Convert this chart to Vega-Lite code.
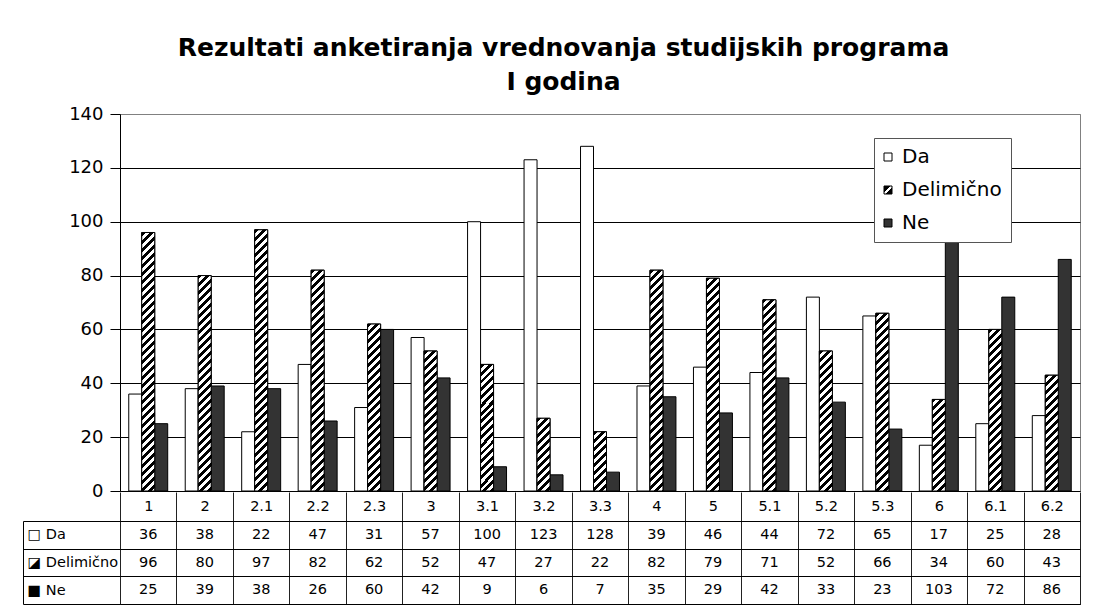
{
  "$schema": "https://vega.github.io/schema/vega-lite/v6.json",
  "background": "white",
  "padding": {"left": 22, "top": 35, "right": 10, "bottom": 5},
  "params": [
    {"name": "hatch", "value": [
      {"offset":0,"color":"#000"},
      {"offset":0.0139,"color":"#000"},{"offset":0.0139,"color":"#fff"},
      {"offset":0.0278,"color":"#fff"},{"offset":0.0278,"color":"#000"},
      {"offset":0.0417,"color":"#000"},{"offset":0.0417,"color":"#fff"},
      {"offset":0.0556,"color":"#fff"},{"offset":0.0556,"color":"#000"},
      {"offset":0.0694,"color":"#000"},{"offset":0.0694,"color":"#fff"},
      {"offset":0.0833,"color":"#fff"},{"offset":0.0833,"color":"#000"},
      {"offset":0.0972,"color":"#000"},{"offset":0.0972,"color":"#fff"},
      {"offset":0.1111,"color":"#fff"},{"offset":0.1111,"color":"#000"},
      {"offset":0.125,"color":"#000"},{"offset":0.125,"color":"#fff"},
      {"offset":0.1389,"color":"#fff"},{"offset":0.1389,"color":"#000"},
      {"offset":0.1528,"color":"#000"},{"offset":0.1528,"color":"#fff"},
      {"offset":0.1667,"color":"#fff"},{"offset":0.1667,"color":"#000"},
      {"offset":0.1806,"color":"#000"},{"offset":0.1806,"color":"#fff"},
      {"offset":0.1944,"color":"#fff"},{"offset":0.1944,"color":"#000"},
      {"offset":0.2083,"color":"#000"},{"offset":0.2083,"color":"#fff"},
      {"offset":0.2222,"color":"#fff"},{"offset":0.2222,"color":"#000"},
      {"offset":0.2361,"color":"#000"},{"offset":0.2361,"color":"#fff"},
      {"offset":0.25,"color":"#fff"},{"offset":0.25,"color":"#000"},
      {"offset":0.2639,"color":"#000"},{"offset":0.2639,"color":"#fff"},
      {"offset":0.2778,"color":"#fff"},{"offset":0.2778,"color":"#000"},
      {"offset":0.2917,"color":"#000"},{"offset":0.2917,"color":"#fff"},
      {"offset":0.3056,"color":"#fff"},{"offset":0.3056,"color":"#000"},
      {"offset":0.3194,"color":"#000"},{"offset":0.3194,"color":"#fff"},
      {"offset":0.3333,"color":"#fff"},{"offset":0.3333,"color":"#000"},
      {"offset":0.3472,"color":"#000"},{"offset":0.3472,"color":"#fff"},
      {"offset":0.3611,"color":"#fff"},{"offset":0.3611,"color":"#000"},
      {"offset":0.375,"color":"#000"},{"offset":0.375,"color":"#fff"},
      {"offset":0.3889,"color":"#fff"},{"offset":0.3889,"color":"#000"},
      {"offset":0.4028,"color":"#000"},{"offset":0.4028,"color":"#fff"},
      {"offset":0.4167,"color":"#fff"},{"offset":0.4167,"color":"#000"},
      {"offset":0.4306,"color":"#000"},{"offset":0.4306,"color":"#fff"},
      {"offset":0.4444,"color":"#fff"},{"offset":0.4444,"color":"#000"},
      {"offset":0.4583,"color":"#000"},{"offset":0.4583,"color":"#fff"},
      {"offset":0.4722,"color":"#fff"},{"offset":0.4722,"color":"#000"},
      {"offset":0.4861,"color":"#000"},{"offset":0.4861,"color":"#fff"},
      {"offset":0.5,"color":"#fff"},{"offset":0.5,"color":"#000"},
      {"offset":0.5139,"color":"#000"},{"offset":0.5139,"color":"#fff"},
      {"offset":0.5278,"color":"#fff"},{"offset":0.5278,"color":"#000"},
      {"offset":0.5417,"color":"#000"},{"offset":0.5417,"color":"#fff"},
      {"offset":0.5556,"color":"#fff"},{"offset":0.5556,"color":"#000"},
      {"offset":0.5694,"color":"#000"},{"offset":0.5694,"color":"#fff"},
      {"offset":0.5833,"color":"#fff"},{"offset":0.5833,"color":"#000"},
      {"offset":0.5972,"color":"#000"},{"offset":0.5972,"color":"#fff"},
      {"offset":0.6111,"color":"#fff"},{"offset":0.6111,"color":"#000"},
      {"offset":0.625,"color":"#000"},{"offset":0.625,"color":"#fff"},
      {"offset":0.6389,"color":"#fff"},{"offset":0.6389,"color":"#000"},
      {"offset":0.6528,"color":"#000"},{"offset":0.6528,"color":"#fff"},
      {"offset":0.6667,"color":"#fff"},{"offset":0.6667,"color":"#000"},
      {"offset":0.6806,"color":"#000"},{"offset":0.6806,"color":"#fff"},
      {"offset":0.6944,"color":"#fff"},{"offset":0.6944,"color":"#000"},
      {"offset":0.7083,"color":"#000"},{"offset":0.7083,"color":"#fff"},
      {"offset":0.7222,"color":"#fff"},{"offset":0.7222,"color":"#000"},
      {"offset":0.7361,"color":"#000"},{"offset":0.7361,"color":"#fff"},
      {"offset":0.75,"color":"#fff"},{"offset":0.75,"color":"#000"},
      {"offset":0.7639,"color":"#000"},{"offset":0.7639,"color":"#fff"},
      {"offset":0.7778,"color":"#fff"},{"offset":0.7778,"color":"#000"},
      {"offset":0.7917,"color":"#000"},{"offset":0.7917,"color":"#fff"},
      {"offset":0.8056,"color":"#fff"},{"offset":0.8056,"color":"#000"},
      {"offset":0.8194,"color":"#000"},{"offset":0.8194,"color":"#fff"},
      {"offset":0.8333,"color":"#fff"},{"offset":0.8333,"color":"#000"},
      {"offset":0.8472,"color":"#000"},{"offset":0.8472,"color":"#fff"},
      {"offset":0.8611,"color":"#fff"},{"offset":0.8611,"color":"#000"},
      {"offset":0.875,"color":"#000"},{"offset":0.875,"color":"#fff"},
      {"offset":0.8889,"color":"#fff"},{"offset":0.8889,"color":"#000"},
      {"offset":0.9028,"color":"#000"},{"offset":0.9028,"color":"#fff"},
      {"offset":0.9167,"color":"#fff"},{"offset":0.9167,"color":"#000"},
      {"offset":0.9306,"color":"#000"},{"offset":0.9306,"color":"#fff"},
      {"offset":0.9444,"color":"#fff"},{"offset":0.9444,"color":"#000"},
      {"offset":0.9583,"color":"#000"},{"offset":0.9583,"color":"#fff"},
      {"offset":0.9722,"color":"#fff"},{"offset":0.9722,"color":"#000"},
      {"offset":0.9861,"color":"#000"},{"offset":0.9861,"color":"#fff"},
      {"offset":1,"color":"#fff"}
    ]}
  ],
  "datasets": {
    "t": [
      {"kat":"1","odg":"Da","broj":36},{"kat":"1","odg":"Delimično","broj":96},{"kat":"1","odg":"Ne","broj":25},
      {"kat":"2","odg":"Da","broj":38},{"kat":"2","odg":"Delimično","broj":80},{"kat":"2","odg":"Ne","broj":39},
      {"kat":"2.1","odg":"Da","broj":22},{"kat":"2.1","odg":"Delimično","broj":97},{"kat":"2.1","odg":"Ne","broj":38},
      {"kat":"2.2","odg":"Da","broj":47},{"kat":"2.2","odg":"Delimično","broj":82},{"kat":"2.2","odg":"Ne","broj":26},
      {"kat":"2.3","odg":"Da","broj":31},{"kat":"2.3","odg":"Delimično","broj":62},{"kat":"2.3","odg":"Ne","broj":60},
      {"kat":"3","odg":"Da","broj":57},{"kat":"3","odg":"Delimično","broj":52},{"kat":"3","odg":"Ne","broj":42},
      {"kat":"3.1","odg":"Da","broj":100},{"kat":"3.1","odg":"Delimično","broj":47},{"kat":"3.1","odg":"Ne","broj":9},
      {"kat":"3.2","odg":"Da","broj":123},{"kat":"3.2","odg":"Delimično","broj":27},{"kat":"3.2","odg":"Ne","broj":6},
      {"kat":"3.3","odg":"Da","broj":128},{"kat":"3.3","odg":"Delimično","broj":22},{"kat":"3.3","odg":"Ne","broj":7},
      {"kat":"4","odg":"Da","broj":39},{"kat":"4","odg":"Delimično","broj":82},{"kat":"4","odg":"Ne","broj":35},
      {"kat":"5","odg":"Da","broj":46},{"kat":"5","odg":"Delimično","broj":79},{"kat":"5","odg":"Ne","broj":29},
      {"kat":"5.1","odg":"Da","broj":44},{"kat":"5.1","odg":"Delimično","broj":71},{"kat":"5.1","odg":"Ne","broj":42},
      {"kat":"5.2","odg":"Da","broj":72},{"kat":"5.2","odg":"Delimično","broj":52},{"kat":"5.2","odg":"Ne","broj":33},
      {"kat":"5.3","odg":"Da","broj":65},{"kat":"5.3","odg":"Delimično","broj":66},{"kat":"5.3","odg":"Ne","broj":23},
      {"kat":"6","odg":"Da","broj":17},{"kat":"6","odg":"Delimično","broj":34},{"kat":"6","odg":"Ne","broj":103},
      {"kat":"6.1","odg":"Da","broj":25},{"kat":"6.1","odg":"Delimično","broj":60},{"kat":"6.1","odg":"Ne","broj":72},
      {"kat":"6.2","odg":"Da","broj":28},{"kat":"6.2","odg":"Delimično","broj":43},{"kat":"6.2","odg":"Ne","broj":86}
    ]
  },
  "title": {
    "text": ["Rezultati anketiranja vrednovanja studijskih programa", "I godina"],
    "font": "DejaVu Sans",
    "fontSize": 25,
    "fontWeight": "bold",
    "color": "black",
    "lineHeight": 34,
    "anchor": "middle",
    "dx": 12,
    "offset": 10
  },
  "spacing": -10,
  "vconcat": [
    {
      "width": 960,
      "height": 377,
      "data": {"name": "t"},
      "view": {"stroke": "#808080", "strokeWidth": 1},
      "encoding": {
        "x": {
          "field": "kat", "type": "nominal", "sort": null,
          "scale": {"paddingInner": 0.31, "paddingOuter": 0.155},
          "axis": {"title": null, "labels": false, "ticks": false, "domain": true, "domainColor": "black", "domainWidth": 1}
        },
        "xOffset": {
          "field": "odg", "type": "nominal", "sort": ["Da", "Delimično", "Ne"],
          "scale": {"paddingInner": 0, "paddingOuter": 0}
        },
        "y": {
          "field": "broj", "type": "quantitative", "stack": null,
          "scale": {"domain": [0, 140], "nice": false},
          "axis": {
            "title": null,
            "values": [0, 20, 40, 60, 80, 100, 120, 140],
            "grid": true,
            "gridColor": {"condition": {"test": "datum.value == 140", "value": "#808080"}, "value": "#000000"},
            "gridWidth": 1,
            "domainColor": "black",
            "domainWidth": 1,
            "tickColor": "black",
            "tickSize": 10,
            "labelPadding": 7,
            "labelFont": "DejaVu Sans",
            "labelFontSize": 18,
            "labelColor": "black"
          }
        }
      },
      "layer": [
        {
          "mark": {"type": "bar", "stroke": "black", "strokeWidth": 1},
          "encoding": {
            "fill": {
              "field": "odg", "type": "nominal",
              "scale": {
                "domain": ["Da", "Delimično", "Ne"],
                "range": [
                  "#ffffff",
                  {"expr": "{gradient: 'linear', x1: 0, y1: 0, x2: 1, y2: 1, stops: [{offset: 0, color: '#000'}, {offset: 0.38, color: '#000'}, {offset: 0.38, color: '#fff'}, {offset: 0.62, color: '#fff'}, {offset: 0.62, color: '#000'}, {offset: 1, color: '#000'}]}"},
                  "#333333"
                ]
              },
              "legend": {
                "title": null,
                "orient": "none",
                "legendX": 754,
                "legendY": 24,
                "direction": "vertical",
                "fillColor": "white",
                "strokeColor": "#555555",
                "padding": 9,
                "symbolType": "square",
                "symbolSize": 64,
                "symbolOffset": -5,
                "symbolStrokeColor": "black",
                "symbolStrokeWidth": 1,
                "labelFont": "DejaVu Sans",
                "labelFontSize": 20,
                "labelColor": "black",
                "labelOffset": 4,
                "rowPadding": 13
              }
            }
          }
        },
        {
          "transform": [{"filter": "datum.odg == 'Delimično'"}],
          "mark": {
            "type": "bar",
            "stroke": "black",
            "strokeWidth": 1,
            "fill": {"expr": "{gradient: 'linear', x1: 0, y1: 0, x2: 3744 / (pow(datum.broj * 2.693, 2) + 169), y2: 288 * datum.broj * 2.693 / (pow(datum.broj * 2.693, 2) + 169), stops: hatch}"}
          }
        }
      ]
    },
    {
      "width": 960,
      "height": 83,
      "data": {"name": "t"},
      "view": {"stroke": "black", "strokeWidth": 1},
      "mark": {"type": "text", "font": "DejaVu Sans", "fontSize": 14.5, "color": "black"},
      "encoding": {
        "x": {
          "field": "kat", "type": "nominal", "sort": null,
          "scale": {"paddingInner": 0, "paddingOuter": 0},
          "axis": {
            "orient": "top", "title": null, "tickBand": "extent",
            "grid": true, "gridColor": "#222222", "gridWidth": 1,
            "ticks": true, "tickSize": 29, "tickColor": "#222222",
            "domain": true, "domainColor": "black",
            "labelAngle": 0, "labelFont": "DejaVu Sans", "labelFontSize": 14.5, "labelColor": "black",
            "labelBaseline": "middle", "labelPadding": -14.5
          }
        },
        "y": {
          "field": "odg", "type": "nominal", "sort": ["Da", "Delimično", "Ne"],
          "scale": {"paddingInner": 0, "paddingOuter": 0},
          "axis": {
            "orient": "left", "offset": 97, "title": null, "tickBand": "extent",
            "grid": true, "gridColor": "black", "gridWidth": 1,
            "ticks": true, "tickSize": -97, "tickColor": "black",
            "domain": true, "domainColor": "black",
            "labelFont": "DejaVu Sans", "labelFontSize": 14.5, "labelColor": "black",
            "labelAlign": "left", "labelPadding": 93,
            "labelExpr": "datum.value == 'Da' ? '□ Da' : datum.value == 'Ne' ? '■ Ne' : datum.value == 'Delimično' ? '◪ Delimično' : ''"
          }
        },
        "text": {"field": "broj", "type": "quantitative"}
      }
    }
  ]
}
